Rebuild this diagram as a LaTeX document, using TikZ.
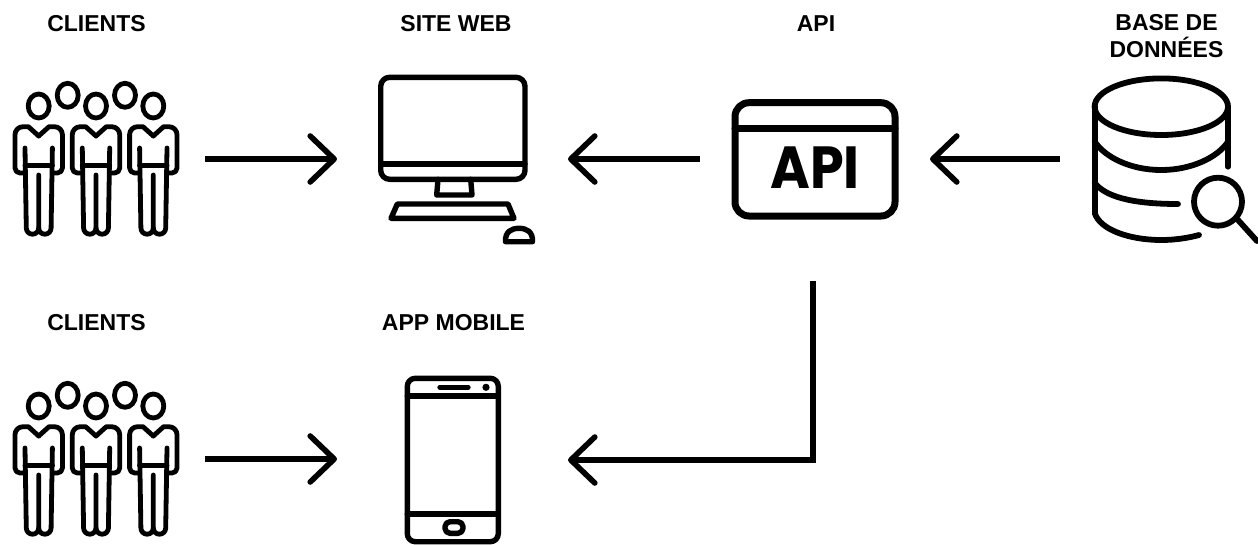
\documentclass[tikz,border=0pt]{standalone}
\usepackage{fontspec}
\setmainfont{Liberation Sans}
\newfontfamily\apifont{Poppins}[BoldFont=Poppins Bold]
\usetikzlibrary{arrows.meta}
\tikzset{
  icon/.style={draw=black,line width=#1,line cap=round,line join=round},
  icon/.default=4.8pt,
  iconbox/.style={inner sep=0pt,outer sep=0pt,minimum height=100pt},
  flow/.style={draw=black,line width=5.6pt,line join=miter,-{Straight Barb[length=24pt,width=46pt,round,line join=round]}},
  lbl/.style={font=\fontsize{23}{27}\selectfont\bfseries,align=center,inner sep=0pt}
}
\newcommand{\personicon}[2]{%
  \begin{scope}[shift={(#1,#2)}]
    \draw[icon,rounded corners=8pt] (0,136) [sharp corners] -- (-10.3,126.7) [rounded corners=8pt] -- (-23.7,126.7) [rounded corners=5pt] -- (-23.7,173) [sharp corners] -- (-13.7,173);
    \draw[icon,rounded corners=8pt] (0,136) [sharp corners] -- (10.3,126.7) [rounded corners=8pt] -- (23.7,126.7) [rounded corners=5pt] -- (23.7,173) [sharp corners] -- (13.7,173);
    \draw[icon] (-13.7,148) -- (-12.4,228) arc[start angle=180,end angle=0,radius=6.2] -- (0,175);
    \draw[icon] (13.7,148) -- (12.4,228) arc[start angle=0,end angle=180,radius=6.2];
    \draw[icon] (-13.7,165.7) -- (13.7,165.7);
  \end{scope}}
\newcommand{\crowdicon}[1]{%
  \begin{scope}[shift={(0,#1)}]
    \draw[icon] (38.7,106) ellipse[x radius=10.5,y radius=12];
    \draw[icon] (67.7,95.3) ellipse[x radius=10.5,y radius=12];
    \draw[icon] (96,106) ellipse[x radius=10.5,y radius=12];
    \draw[icon] (125,95.3) ellipse[x radius=10.5,y radius=12];
    \draw[icon] (153.3,106) ellipse[x radius=10.5,y radius=12];
    \personicon{38.7}{0}\personicon{96}{0}\personicon{153.3}{0}
  \end{scope}}
\begin{document}
\begin{tikzpicture}[x=1pt,y=-1pt]
\useasboundingbox (0,0) rectangle (1258,544);
% invisible boxes that carry the connector ends
\node[iconbox,minimum width=190pt] (clientsA) at (110,159) {};
\node[iconbox,minimum width=231pt] (web) at (452.5,159) {};
\node[iconbox,minimum width=230pt] (api) at (815,159) {};
\node[iconbox,minimum width=190pt] (db) at (1155,159) {};
\node[iconbox,minimum width=190pt] (clientsB) at (110,459) {};
\node[iconbox,minimum width=231pt] (mobile) at (452.5,460) {};
\coordinate (apiOut) at (812.7,281);
% labels
\node[lbl] (lblA) at (96.5,24) {CLIENTS};
\node[lbl] (lblB) at (456,24) {SITE WEB};
\node[lbl] (lblC) at (816,24) {API};
\node[lbl] (lblD) at (1166.5,36) {BASE DE\\DONNÉES};
\node[lbl] (lblE) at (96.5,323) {CLIENTS};
\node[lbl] (lblF) at (453.5,323) {APP MOBILE};
% clients
\crowdicon{0}
\crowdicon{300}
% monitor
\draw[icon=5.4pt] (380.7,164) -- (525,164);
\draw[icon=5.4pt,rounded corners=9pt] (380.7,77.3) rectangle (525,179.3);
\draw[icon=5.4pt] (438,179.3) -- (436.7,195) -- (472,195) -- (470.7,179.3);
\draw[icon=5.4pt] (397.3,204) -- (508,204) -- (514,218.3) -- (391,218.3) -- cycle;
\draw[icon=5.4pt] (505.5,241.7) -- (532.5,241.7) .. controls (533,232) and (527,228.3) .. (519,228.3) .. controls (511,228.3) and (505,232) .. (505.5,241.7) -- cycle;
% api window
\draw[icon=7pt,rounded corners=14pt] (735,102.7) rectangle (895,216);
\draw[icon=7pt] (735,128.3) -- (895,128.3);
\node[inner sep=0pt,font=\apifont\fontsize{54}{54}\selectfont\bfseries] (apiword) at (815,168) {\scalebox{1}[1.1]{API}};
% database
\draw[icon=5.8pt] (1161.3,106.7) ellipse[x radius=66.7,y radius=28.3];
\draw[icon=5.8pt] (1094.7,106.7) -- (1094.7,213);
\draw[icon=5.8pt] (1228,106.7) -- (1228,166.7);
\draw[icon=5.8pt] (1094.7,141.7) .. controls (1105,157) and (1130,170) .. (1161.3,170) .. controls (1192,170) and (1218,157) .. (1228,141.7);
\draw[icon=5.8pt] (1094.7,183) .. controls (1105,196) and (1130,204) .. (1178,204);
\draw[icon=5.8pt] (1094.7,213) .. controls (1100,230) and (1130,240) .. (1161.3,240) .. controls (1175,240) and (1188,238) .. (1199,235);
\draw[icon=5.8pt] (1218,201.7) circle[radius=24];
\draw[icon=5.8pt] (1238,220) -- (1257,241);
% phone
\draw[icon=5.4pt,rounded corners=8pt] (407.3,378.3) rectangle (498.3,541.7);
\draw[icon=5.4pt] (407.3,396) -- (498.3,396);
\draw[icon=5.4pt] (407.3,514) -- (498.3,514);
\draw[icon=5.4pt] (440,387.3) -- (468,387.3);
\fill (486,387.3) circle[radius=3.6];
\draw[icon=5.4pt,rounded corners=5pt] (445,521.7) rectangle (463,533.3);
% connectors
\draw[flow] (clientsA.east) -- (web.west);
\draw[flow] (api.west) -- (web.east);
\draw[flow] (db.west) -- (api.east);
\draw[flow] (clientsB.east) -- (clientsB.east -| mobile.west);
\draw[flow] (apiOut) -- (apiOut |- mobile.east) -- (mobile.east);
\end{tikzpicture}
\end{document}
